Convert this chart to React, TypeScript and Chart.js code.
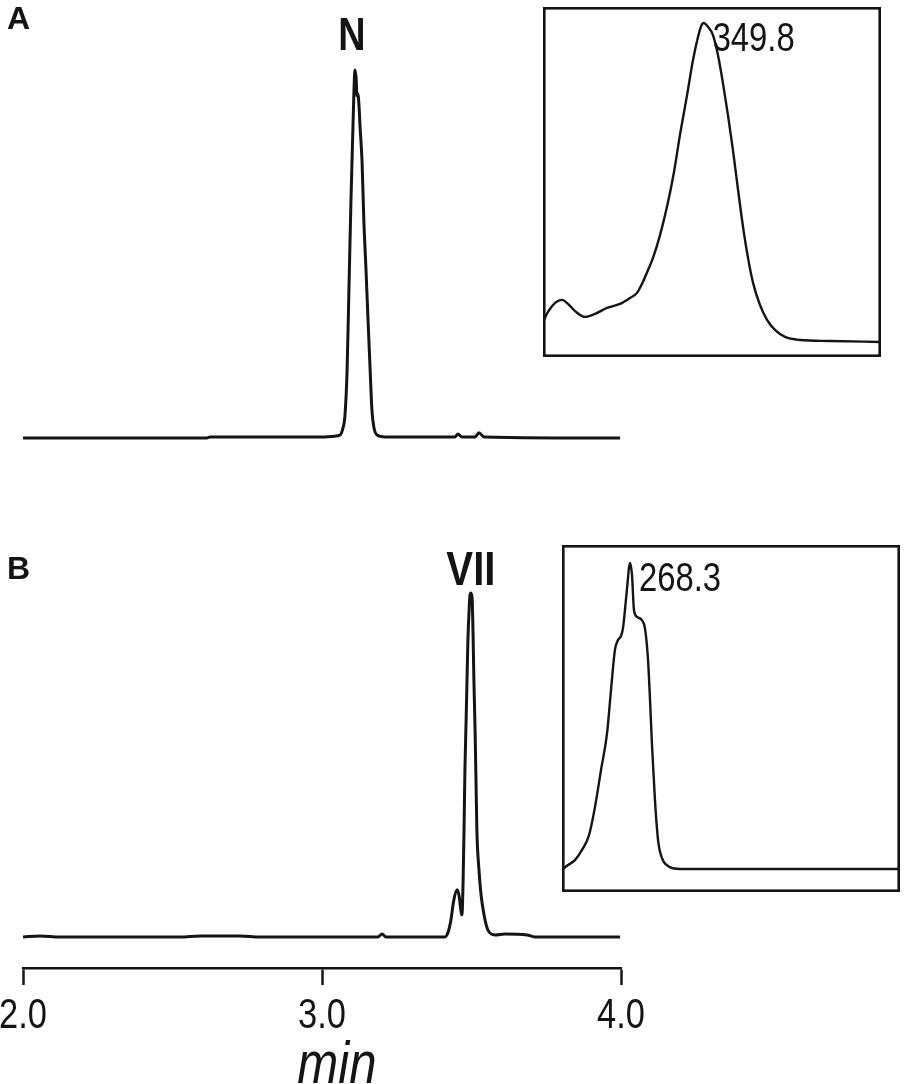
import React, { useEffect, useRef } from 'react';
import { Chart, registerables } from 'chart.js';
Chart.register(...registerables);

// ---------------- data ----------------
// Chromatogram A (time, min / signal, relative)
const timeA = [2.0, 2.615, 2.625, 3.01, 3.043, 3.06, 3.07, 3.077, 3.084, 3.09, 3.097, 3.104, 3.107, 3.11, 3.114, 3.117, 3.12, 3.124, 3.127, 3.134, 3.14, 3.147, 3.154, 3.161, 3.167, 3.174, 3.184, 3.211, 3.445, 3.455, 3.468, 3.512, 3.525, 3.542, 3.997];
const signalA = [0, 0, 0.3, 0.3, 0.5, 0.8, 2.7, 6.3, 18.5, 40, 65, 86, 94.6, 100, 98, 93, 93.5, 90, 85, 75, 59, 46, 32, 18.5, 7.6, 2.7, 0.8, 0.3, 0.3, 1.1, 0.3, 0.3, 1.4, 0.3, 0];
// Chromatogram B
const timeB = [2.0, 2.057, 2.124, 2.525, 2.592, 2.726, 2.793, 3.187, 3.201, 3.214, 3.411, 3.421, 3.431, 3.441, 3.452, 3.458, 3.468, 3.472, 3.475, 3.478, 3.482, 3.485, 3.488, 3.492, 3.495, 3.498, 3.502, 3.505, 3.508, 3.512, 3.515, 3.518, 3.525, 3.532, 3.542, 3.555, 3.579, 3.612, 3.686, 3.712, 3.997];
const signalB = [0, 0.3, 0, 0, 0.3, 0.3, 0, 0, 0.9, 0, 0, 1.2, 4.9, 10.8, 13.7, 12.2, 6.4, 16.6, 31, 48.5, 63, 74.7, 86.3, 95, 99.4, 100, 98.5, 89, 74.7, 60, 45.6, 31, 19.5, 12.2, 6.4, 2, 0.6, 0.9, 0.6, 0, 0];
const peakNameA = 'N';
const peakNameB = 'VII';
const panelA = 'A';
const panelB = 'B';
const timeTicks = [2, 3, 4];
const timeTitle = 'min';

// UV spectrum insets (wavelength, nm / absorbance, relative)
const waveA = [250.0, 253.1, 257.5, 261.8, 265.5, 270.5, 276.1, 282.3, 289.8, 297.8, 304.1, 308.4, 312.1, 315.2, 318.3, 322.7, 327.0, 331.4, 335.1, 339.5, 343.2, 346.3, 348.3, 349.8, 352.6, 355.6, 358.7, 361.8, 364.9, 368.0, 371.2, 374.3, 377.4, 380.5, 384.8, 389.2, 394.1, 400.4, 409.7, 428.3, 460.0];
const absA = [10.5, 13.5, 16.2, 17.1, 15.9, 13.5, 12.0, 12.9, 14.7, 15.9, 17.7, 19.2, 22.5, 26.0, 29.6, 36.5, 44.9, 55.4, 66.5, 78.4, 88.9, 95.8, 99.1, 100, 98.8, 96.4, 90.4, 82.0, 72.5, 62.0, 50.0, 38.9, 29.6, 22.2, 15.6, 11.1, 8.1, 6.0, 5.1, 4.8, 4.5];
const waveB = [220.0, 224.3, 229.2, 234.2, 239.2, 243.4, 247.7, 252.0, 254.8, 257.6, 259.8, 261.9, 263.3, 264.7, 266.2, 268.3, 269.7, 271.1, 273.3, 276.8, 278.9, 281.1, 282.5, 283.9, 286.0, 288.2, 291.0, 295.3, 303.8, 332.2, 460.0];
const absB = [6.7, 8.2, 9.7, 12.8, 17.3, 25.8, 37.1, 48.3, 61.4, 73.6, 76.6, 77.8, 80.2, 85.7, 92.4, 100, 96.4, 85.7, 83.6, 82.6, 80.2, 70.5, 58.4, 44.7, 28.0, 15.8, 10.3, 7.9, 7.0, 7.0, 7.0];
const lambdaMaxA = '349.8';
const lambdaMaxB = '268.3';

// ---------------- layout ----------------
const W = 905;
const H = 1084;
const X_LEFT = 23;
const X_RIGHT = 621;
const AXIS_Y = 968;
const BASE_A = 438;
const APEX_A = 70;
const BASE_B = 937;
const APEX_B = 593;
const FAMILY = '"Liberation Sans", Arial, sans-serif';
const SQUEEZE = 0.82; // condensed look of the original lettering
const INK = '#141414';

function yRange(base: number, apex: number, peak: number) {
  const ppu = (base - apex) / peak;
  return { min: -(AXIS_Y - base) / ppu, max: base / ppu };
}

function peakIndex(arr: number[]) {
  let m = 0;
  for (let i = 1; i < arr.length; i++) if (arr[i] > arr[m]) m = i;
  return m;
}

function narrowText(ctx: CanvasRenderingContext2D, text: string, x: number, y: number, font: string, align: CanvasTextAlign) {
  ctx.save();
  ctx.translate(x, y);
  ctx.scale(SQUEEZE, 1);
  ctx.font = font;
  ctx.textAlign = align;
  ctx.textBaseline = 'alphabetic';
  ctx.fillStyle = INK;
  ctx.fillText(text, 0, 0);
  ctx.restore();
}

function MainChart() {
  const ref = useRef<HTMLCanvasElement | null>(null);
  useEffect(() => {
    const rA = yRange(BASE_A, APEX_A, Math.max(...signalA));
    const rB = yRange(BASE_B, APEX_B, Math.max(...signalB));
    const labels = {
      id: 'labels',
      afterDatasetsDraw(chart: any) {
        const ctx = chart.ctx as CanvasRenderingContext2D;
        const x = chart.scales.x;
        ctx.save();
        ctx.fillStyle = INK;
        ctx.textBaseline = 'alphabetic';
        ctx.textAlign = 'left';
        ctx.font = `bold 32px ${FAMILY}`;
        ctx.fillText(panelA, 7, 29);
        ctx.fillText(panelB, 7, 579);
        ctx.restore();
        const ia = peakIndex(signalA);
        const ib = peakIndex(signalB);
        narrowText(ctx, peakNameA, x.getPixelForValue(timeA[ia]) - 3, chart.scales.yA.getPixelForValue(signalA[ia]) - 20, `bold 46px ${FAMILY}`, 'center');
        narrowText(ctx, peakNameB, x.getPixelForValue(timeB[ib]), chart.scales.yB.getPixelForValue(signalB[ib]) - 8, `bold 49px ${FAMILY}`, 'center');
        // tick labels from the scale's ticks
        const labelTop = x.top + 17 + 13 + 30; // baseline of digits
        for (const t of x.ticks) {
          narrowText(ctx, Number(t.value).toFixed(1), x.getPixelForValue(t.value), labelTop, `42px ${FAMILY}`, 'center');
        }
        narrowText(ctx, timeTitle, (x.left + x.right) / 2 + 15, H - 1, `italic 60px ${FAMILY}`, 'center');
      },
    };
    const chart = new Chart(ref.current as HTMLCanvasElement, {
      type: 'line',
      data: {
        datasets: [
          {
            data: timeA.map((t, i) => ({ x: t, y: signalA[i] })),
            yAxisID: 'yA',
            borderColor: INK,
            borderWidth: 3,
            pointRadius: 0,
            fill: false,
            cubicInterpolationMode: 'monotone',
          },
          {
            data: timeB.map((t, i) => ({ x: t, y: signalB[i] })),
            yAxisID: 'yB',
            borderColor: INK,
            borderWidth: 3,
            pointRadius: 0,
            fill: false,
            cubicInterpolationMode: 'monotone',
          },
        ],
      },
      options: {
        responsive: false,
        animation: false,
        events: [],
        layout: { padding: { left: X_LEFT, right: W - X_RIGHT, top: 0, bottom: 0 } },
        plugins: { legend: { display: false }, tooltip: { enabled: false } },
        scales: {
          x: {
            type: 'linear',
            min: timeTicks[0],
            max: timeTicks[timeTicks.length - 1],
            position: 'bottom',
            afterFit: (s: any) => {
              s.height = H - AXIS_Y;
              s.paddingLeft = 0;
              s.paddingRight = 0;
            },
            afterBuildTicks: (s: any) => {
              s.ticks = timeTicks.map((v) => ({ value: v }));
            },
            grid: { drawOnChartArea: false, drawTicks: true, tickLength: 17, tickWidth: 2.5, color: INK },
            border: { display: true, color: INK, width: 2.5 },
            ticks: { display: false },
          },
          yA: { type: 'linear', display: false, min: rA.min, max: rA.max },
          yB: { type: 'linear', display: false, min: rB.min, max: rB.max },
        },
      },
      plugins: [labels],
    } as any);
    return () => chart.destroy();
  }, []);
  return (
    <canvas
      ref={ref}
      width={W}
      height={H}
      style={{ position: 'absolute', left: 0, top: 0, width: W, height: H }}
    />
  );
}

type InsetProps = {
  left: number;
  top: number;
  width: number;
  height: number;
  apexY: number; // page y of spectrum maximum
  wave: number[];
  abs: number[];
  wMin: number;
  wMax: number;
  label: string;
};

function Inset(p: InsetProps) {
  const ref = useRef<HTMLCanvasElement | null>(null);
  useEffect(() => {
    const peak = Math.max(...p.abs);
    const yMax = (peak * p.height) / (p.top + p.height - p.apexY);
    const deco = {
      id: 'deco',
      afterDatasetsDraw(chart: any) {
        const ctx = chart.ctx as CanvasRenderingContext2D;
        const a = chart.chartArea;
        ctx.save();
        ctx.strokeStyle = INK;
        ctx.lineWidth = 2.6;
        ctx.strokeRect(a.left + 1.3, a.top + 1.3, a.right - a.left - 2.6, a.bottom - a.top - 2.6);
        ctx.restore();
        const i = peakIndex(p.abs);
        const px = chart.scales.x.getPixelForValue(p.wave[i]);
        const py = chart.scales.y.getPixelForValue(p.abs[i]);
        narrowText(ctx, p.label, px + 9, py + 28, `40px ${FAMILY}`, 'left');
      },
    };
    const chart = new Chart(ref.current as HTMLCanvasElement, {
      type: 'line',
      data: {
        datasets: [
          {
            data: p.wave.map((w, i) => ({ x: w, y: p.abs[i] })),
            borderColor: INK,
            borderWidth: 2.4,
            pointRadius: 0,
            fill: false,
            cubicInterpolationMode: 'monotone',
          },
        ],
      },
      options: {
        responsive: false,
        animation: false,
        events: [],
        layout: { padding: 0 },
        plugins: { legend: { display: false }, tooltip: { enabled: false } },
        scales: {
          x: { type: 'linear', display: false, min: p.wMin, max: p.wMax },
          y: { type: 'linear', display: false, min: 0, max: yMax },
        },
      },
      plugins: [deco],
    } as any);
    return () => chart.destroy();
  }, []);
  return (
    <canvas
      ref={ref}
      width={p.width}
      height={p.height}
      style={{ position: 'absolute', left: p.left, top: p.top, width: p.width, height: p.height }}
    />
  );
}

export default function App() {
  return (
    <div style={{ position: 'absolute', left: 0, top: 0, width: W, height: H, background: '#fff', overflow: 'hidden' }}>
      <MainChart />
      <Inset left={543} top={7} width={338} height={350} apexY={23} wave={waveA} abs={absA} wMin={250} wMax={460} label={lambdaMaxA} />
      <Inset left={562} top={545} width={338} height={347} apexY={563} wave={waveB} abs={absB} wMin={220} wMax={460} label={lambdaMaxB} />
    </div>
  );
}
